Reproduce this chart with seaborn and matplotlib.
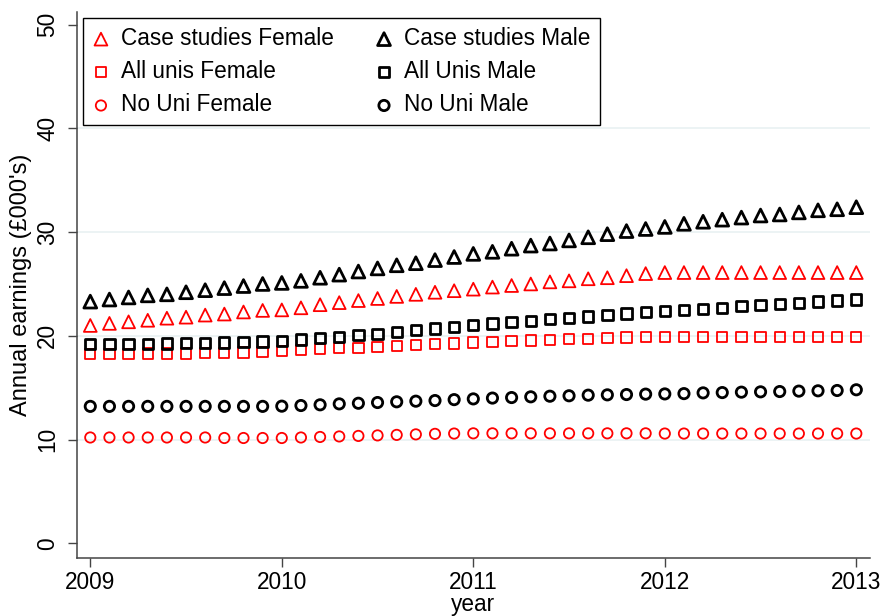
import numpy as np
import pandas as pd
import matplotlib
matplotlib.use("Agg")
import matplotlib.pyplot as plt
import seaborn as sns

# time points (tenths of a year)
periods = [2009.0, 2009.1, 2009.2, 2009.3, 2009.4, 2009.5, 2009.6, 2009.7, 2009.8, 2009.9,
           2010.0, 2010.1, 2010.2, 2010.3, 2010.4, 2010.5, 2010.6, 2010.7, 2010.8, 2010.9,
           2011.0, 2011.1, 2011.2, 2011.3, 2011.4, 2011.5, 2011.6, 2011.7, 2011.8, 2011.9,
           2012.0, 2012.1, 2012.2, 2012.3, 2012.4, 2012.5, 2012.6, 2012.7, 2012.8, 2012.9,
           2013.0]

case_female = [21.0, 21.2, 21.35, 21.5, 21.7, 21.8, 22.0, 22.1, 22.3, 22.45,
               22.5, 22.7, 23.0, 23.2, 23.4, 23.6, 23.8, 24.0, 24.2, 24.35,
               24.5, 24.7, 24.85, 25.0, 25.2, 25.3, 25.5, 25.6, 25.8, 26.0,
               26.1, 26.1, 26.1, 26.1, 26.1, 26.1, 26.1, 26.1, 26.1, 26.1, 26.1]
case_male = [23.3, 23.5, 23.7, 23.9, 24.0, 24.2, 24.4, 24.6, 24.8, 25.0,
             25.1, 25.3, 25.6, 25.9, 26.2, 26.5, 26.8, 27.0, 27.3, 27.6,
             27.9, 28.1, 28.4, 28.7, 28.9, 29.2, 29.5, 29.8, 30.1, 30.3,
             30.5, 30.8, 31.0, 31.2, 31.4, 31.6, 31.7, 31.9, 32.1, 32.2, 32.4]
allunis_female = [18.25, 18.25, 18.25, 18.3, 18.3, 18.3, 18.35, 18.35, 18.4, 18.45,
                  18.55, 18.65, 18.7, 18.8, 18.85, 18.95, 19.05, 19.1, 19.2, 19.25,
                  19.35, 19.4, 19.5, 19.55, 19.6, 19.7, 19.7, 19.8, 19.85, 19.9,
                  19.9, 19.9, 19.9, 19.9, 19.9, 19.9, 19.9, 19.9, 19.9, 19.9, 19.9]
allunis_male = [19.2, 19.2, 19.2, 19.2, 19.25, 19.3, 19.3, 19.35, 19.4, 19.45,
                19.5, 19.65, 19.8, 19.9, 20.05, 20.2, 20.4, 20.55, 20.7, 20.85,
                21.05, 21.2, 21.3, 21.45, 21.6, 21.7, 21.85, 22.0, 22.15, 22.3,
                22.4, 22.5, 22.6, 22.7, 22.85, 22.95, 23.05, 23.15, 23.3, 23.4, 23.5]
nouni_female = [10.2, 10.2, 10.2, 10.2, 10.2, 10.2, 10.2, 10.15, 10.15, 10.15,
                10.15, 10.2, 10.25, 10.3, 10.35, 10.4, 10.45, 10.5, 10.55, 10.58,
                10.6, 10.6, 10.6, 10.6, 10.6, 10.6, 10.6, 10.6, 10.6, 10.6,
                10.58, 10.58, 10.58, 10.58, 10.58, 10.58, 10.58, 10.58, 10.58, 10.58, 10.58]
nouni_male = [13.2, 13.2, 13.2, 13.2, 13.2, 13.2, 13.2, 13.2, 13.2, 13.2,
              13.22, 13.28, 13.35, 13.44, 13.5, 13.57, 13.64, 13.7, 13.76, 13.85,
              13.92, 14.0, 14.05, 14.12, 14.18, 14.22, 14.28, 14.31, 14.34, 14.38,
              14.4, 14.43, 14.5, 14.53, 14.57, 14.6, 14.63, 14.67, 14.7, 14.73, 14.8]

series = [
    ("Case studies Female", case_female, "^", "red"),
    ("All unis Female", allunis_female, "s", "red"),
    ("No Uni Female", nouni_female, "o", "red"),
    ("Case studies Male", case_male, "^", "black"),
    ("All Unis Male", allunis_male, "s", "black"),
    ("No Uni Male", nouni_male, "o", "black"),
]

year_ticks = [2009, 2010, 2011, 2012, 2013]
earn_ticks = [0, 10, 20, 30, 40, 50]

sns.set_style("white")
plt.rcParams["font.family"] = ["Liberation Sans", "DejaVu Sans"]
plt.rcParams["text.color"] = "black"
plt.rcParams["axes.labelcolor"] = "black"
plt.rcParams["xtick.color"] = "black"
plt.rcParams["ytick.color"] = "black"

fs = 16.3

fig = plt.figure(figsize=(8.83, 6.16), dpi=100)
ax = fig.add_axes([76.5 / 883, 1 - 557.7 / 616, 793.5 / 883, 545.7 / 616])

for y in earn_ticks[1:-1]:
    ax.axhline(y, color="#eaf2f3", lw=1.3, zorder=0)

for label, vals, mk, col in series:
    df = pd.DataFrame({"year": periods, "earn": vals})
    lw = 1.3 if col == "red" else 2.0
    size = 85 if mk == "^" else 55
    sns.scatterplot(data=df, x="year", y="earn", marker=mk, s=size,
                    color=col, facecolor="none", edgecolor=col,
                    linewidth=lw, label=label, ax=ax, zorder=3)

ax.set_xlim(2008.928, 2013.0715)
ax.set_ylim(-1.39, 51.22)
ax.set_xticks(year_ticks)
ax.set_yticks(earn_ticks)
ax.set_xticklabels([str(t) for t in year_ticks])
ax.set_yticklabels([str(t) for t in earn_ticks])
plt.setp(ax.get_yticklabels(), rotation=90, va="center")

for s in ["top", "right"]:
    ax.spines[s].set_visible(False)
for s in ["left", "bottom"]:
    ax.spines[s].set_color("#444444")
    ax.spines[s].set_linewidth(1.1)
ax.tick_params(axis="both", which="major", bottom=True, left=True,
               length=6.5, width=1.0, color="#444444",
               labelsize=fs, labelcolor="black", direction="out")
ax.tick_params(axis="x", pad=3)
ax.tick_params(axis="y", pad=6)

ax.set_xlabel("year", fontsize=fs, labelpad=-1)
ax.set_ylabel("Annual earnings (£000's)", fontsize=17, labelpad=3)

leg = ax.legend(loc="upper left", bbox_to_anchor=(0.008, 0.989), borderaxespad=0,
                ncol=2, fontsize=fs, frameon=True, fancybox=False,
                handlelength=0.8, handletextpad=0.5, columnspacing=1.8,
                labelspacing=0.45, borderpad=0.4, markerscale=1.0)
leg.get_frame().set_edgecolor("black")
leg.get_frame().set_linewidth(1.0)
leg.get_frame().set_alpha(1)

fig.savefig("out.png", dpi=100)
